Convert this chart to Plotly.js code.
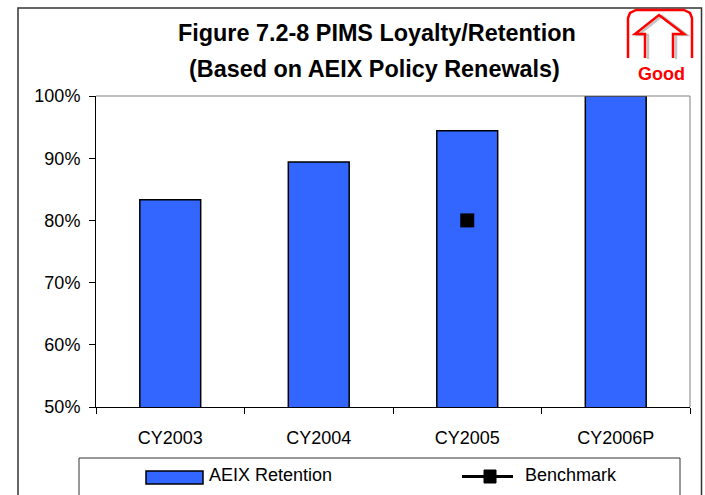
<!DOCTYPE html>
<html><head><meta charset="utf-8">
<script src="https://cdn.plot.ly/plotly-3.0.1.min.js"></script>
<style>html,body{margin:0;padding:0;background:#fff;overflow:hidden}</style>
</head><body><div id="chart" style="width:705px;height:495px"></div>
<script>
const categories = ["CY2003","CY2004","CY2005","CY2006P"];
const retention = [83.3,89.4,94.4,100];
const benchmark = [null,null,80,null];
const yTicks = [50,60,70,80,90,100];
const yLabels = ["50%","60%","70%","80%","90%","100%"];
const W=705,H=495,L=96,R=690,T=96,B=407;
const FONT='"Liberation Sans", Arial, sans-serif';
const fx=x=>(x-L)/(R-L), fy=y=>(B-y)/(B-T);
// [x,y] page pixels to paper path
const path=(pts,close)=>pts.map((p,i)=>(i?'L':'M')+fx(p[0])+','+fy(p[1])).join(' ')+(close?' Z':'');
const shape=(pts,line,fill,close)=>({type:'path',xref:'paper',yref:'paper',layer:'above',path:path(pts,close),line:line,fillcolor:fill||'rgba(0,0,0,0)'});
const rect=(x0,y0,x1,y1,line,fill)=>({type:'rect',xref:'paper',yref:'paper',layer:'above',x0:fx(x0),x1:fx(x1),y0:fy(y0),y1:fy(y1),line:line,fillcolor:fill||'rgba(0,0,0,0)'});
const text=(t,x,y,size,color,bold)=>({text:bold?'<b>'+t+'</b>':t,xref:'paper',yref:'paper',x:fx(x),y:fy(y),xanchor:'center',yanchor:'middle',showarrow:false,font:{family:FONT,size:size,color:color}});
const red={color:'#ff0000',width:2.5}, gray={color:'#c4c4c4',width:2.5};
const arrow=[[645,58],[645,34],[635,34],[659,15],[684,34],[673,34],[673,58]];
const shapes=[
  rect(18,8,701.5,520,{color:'#333333',width:1.5}),
  shape([[L,T],[R,T],[R,B]],{color:'#808080',width:1}),
  shape(arrow.map(p=>[p[0]+3,p[1]+1]),gray),
  shape(arrow,red),
  shape([[628,58],[628,18],[630,13],[636,10],[684,10],[690,13],[692,18],[692,58]],red),
  rect(79,458,680,520,{color:'#333333',width:1}),
  rect(146,471,203,484,{color:'#000000',width:1.5},'#3366ff'),
  shape([[462,476.5],[513,476.5]],{color:'#000000',width:3}),
  rect(484,470,496,483,{color:'#000000',width:1},'#000000')
];
const annotations=[
  text('Figure 7.2-8 PIMS Loyalty/Retention',376.5,33,23.4,'#000000',true),
  text('(Based on AEIX Policy Renewals)',374.5,69,23.4,'#000000',true),
  text('Good',661,74,18,'#ff0000',true),
  text('AEIX Retention',270.5,475,18,'#000000',false),
  text('Benchmark',570.5,475,18,'#000000',false)
];
const data=[
 {type:'bar',name:'AEIX Retention',x:categories,y:retention,width:0.41,marker:{color:'#3366ff',line:{color:'#000000',width:1.5}}},
 {type:'scatter',mode:'lines+markers',name:'Benchmark',x:categories,y:benchmark,line:{color:'#000000',width:3},marker:{symbol:'square',size:14,color:'#000000'}}
];
const layout={
 width:W,height:H,showlegend:false,paper_bgcolor:'#fff',plot_bgcolor:'#fff',
 margin:{l:L,r:W-R,t:T,b:H-B,pad:0},font:{family:FONT,size:18,color:'#000'},
 xaxis:{type:'category',range:[-0.5,3.5],categoryorder:'array',categoryarray:categories,showgrid:false,zeroline:false,showline:true,linecolor:'#000',linewidth:1,ticks:'outside',ticklen:6,tickcolor:'#000',tickson:'boundaries',ticklabelstandoff:14,tickfont:{family:FONT,size:18,color:'#000'}},
 yaxis:{range:[50,100],tickmode:'array',tickvals:yTicks,ticktext:yLabels,showgrid:false,zeroline:false,showline:true,linecolor:'#000',linewidth:1,ticks:'outside',ticklen:6,tickcolor:'#000',ticklabelstandoff:5,tickfont:{family:FONT,size:18,color:'#000'}},
 shapes:shapes,annotations:annotations
};
Plotly.newPlot('chart',data,layout,{displayModeBar:false,staticPlot:true});
</script></body></html>
